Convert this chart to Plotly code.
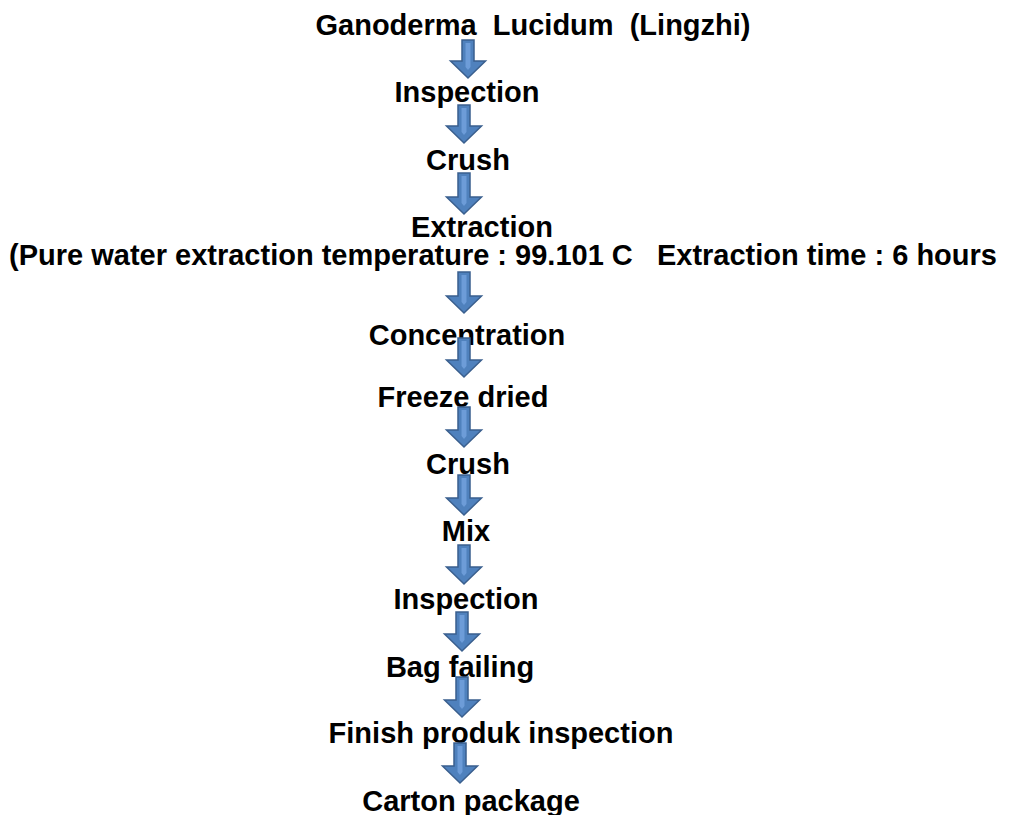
import plotly.graph_objects as go

NB = "\u00a0"

# ---- content ----
steps = [
    "Ganoderma" + NB + NB + "Lucidum" + NB + NB + "(Lingzhi)",
    "Inspection",
    "Crush",
    "Extraction",
    "(Pure water extraction temperature : 99.101 C" + NB + NB + NB + "Extraction time : 6 hours",
    "Concentration",
    "Freeze dried",
    "Crush",
    "Mix",
    "Inspection",
    "Bag failing",
    "Finish produk inspection",
    "Carton package",
]

# ---- layout (pixel positions of labels and arrows) ----
label_x = [533, 467, 468, 482, 503, 467, 463, 468, 466, 466, 460, 501, 471]
label_y = [28, 95, 163, 230, 258, 338, 400, 467, 534, 602, 670, 736, 804]

arrow_x = [468, 464, 464, 464, 464, 464, 464, 464, 462, 462, 460]
arrow_top = [40, 105, 173, 272, 338, 407, 475, 545, 612, 677, 743]
arrow_bottom = [78, 143, 214, 313, 377, 447, 515, 584, 651, 717, 783]

W, H = 1011, 815
shaft_w, head_w, head_h = 12, 35, 17
fill_col = "#4f81bd"
edge_col = "#3a5f8e"
stripe_col = "#6d9cd8"

fig = go.Figure()
fig.add_trace(go.Scatter(
    x=label_x, y=label_y, mode="text",
    text=["<b>" + s + "</b>" for s in steps],
    textposition="middle center",
    textfont=dict(family="Liberation Sans, Arial, sans-serif", size=29, color="#000000"),
    hoverinfo="skip", showlegend=False,
))

shapes = []
for cx, t, b in zip(arrow_x, arrow_top, arrow_bottom):
    sw, hw = shaft_w / 2, head_w / 2
    hb = b - head_h
    path = (f"M {cx-sw},{t} L {cx+sw},{t} L {cx+sw},{hb} L {cx+hw},{hb} "
            f"L {cx},{b} L {cx-hw},{hb} L {cx-sw},{hb} Z")
    shapes.append(dict(type="path", path=path, xref="x", yref="y", layer="above",
                       fillcolor=fill_col, line=dict(color=edge_col, width=1.5)))
    # lighter inner stripe in the shaft
    shapes.append(dict(type="path",
                       path=f"M {cx-2.5},{t+3} L {cx+2.5},{t+3} L {cx+2.5},{hb+6} L {cx},{hb+9} L {cx-2.5},{hb+6} Z",
                       xref="x", yref="y", layer="above",
                       fillcolor=stripe_col, line=dict(width=0)))

fig.update_layout(
    width=W, height=H,
    margin=dict(l=0, r=0, t=0, b=0),
    paper_bgcolor="white", plot_bgcolor="white",
    xaxis=dict(range=[0, W], visible=False, fixedrange=True),
    yaxis=dict(range=[H, 0], visible=False, fixedrange=True),
    shapes=shapes,
    showlegend=False,
)

fig.write_html(
    "out.html",
    config={"displayModeBar": False},
    post_script="document.body.style.margin='0';document.body.style.overflow='hidden';",
)
